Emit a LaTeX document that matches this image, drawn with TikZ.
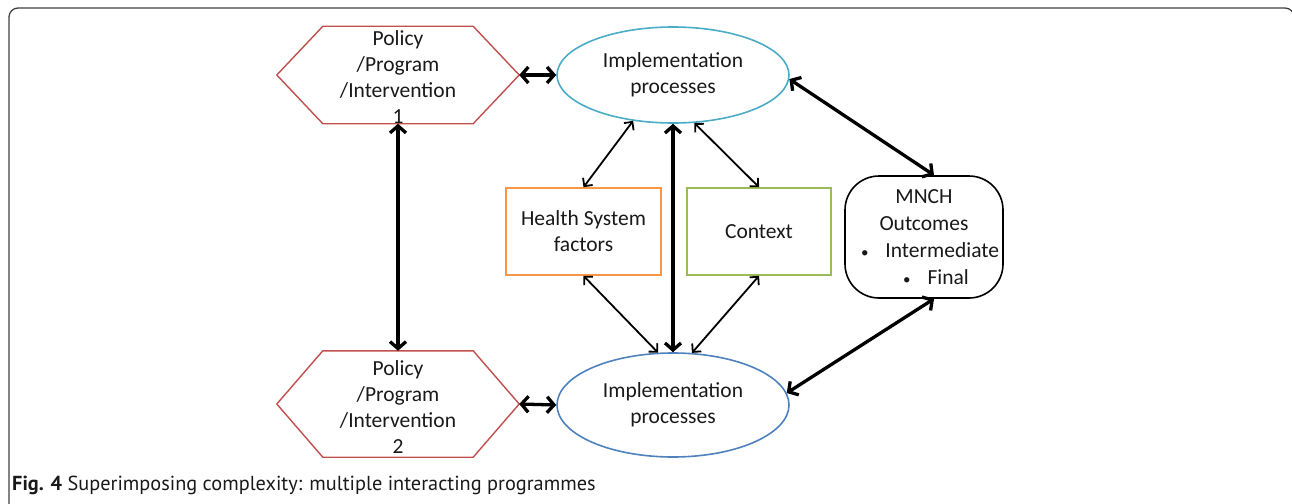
\documentclass[tikz,border=0pt]{standalone}
\usepackage{fontspec}
\setmainfont{Carlito}
\newfontfamily\capfont{PT Sans}
\usetikzlibrary{arrows.meta,shapes.geometric,calc}
\definecolor{hexred}{HTML}{C0504D}
\definecolor{tealc}{HTML}{4BACC6}
\definecolor{bluec}{HTML}{4F81BD}
\definecolor{orangec}{HTML}{F79646}
\definecolor{greenc}{HTML}{9BBB59}
\newcommand{\smallbul}{{\fontsize{15}{15}\selectfont\textbullet}}
\begin{document}
\begin{tikzpicture}[x=1pt,y=-1pt,
  txt/.style={font=\fontsize{21.5}{26}\selectfont, align=center, text=black!90},
  hexbox/.style={rectangle, minimum width=242pt, minimum height=97pt, inner sep=0pt},
  hexline/.style={draw=hexred, line width=1.4pt},
  ell/.style={ellipse, minimum width=232pt, inner sep=0pt, line width=1.6pt, txt},
  sqbox/.style={rectangle, minimum height=87pt, inner sep=0pt, line width=1.6pt, txt},
  thickarr/.style={line width=3.3pt, {Straight Barb[length=7pt,width=16pt]}-{Straight Barb[length=7pt,width=16pt]}},
  thinarr/.style={line width=1.8pt, {Straight Barb[length=6pt,width=12pt]}-{Straight Barb[length=6pt,width=12pt]}},
]
\useasboundingbox (0,0) rectangle (1292,503);
\begin{scope}
\clip (0,0) rectangle (1292,503);
\draw[line width=1.3pt, black!75, rounded corners=9pt] (9,520) -- (9,8) -- (1294,8) -- (1294,530);
\end{scope}

% hexagons
\node[hexbox] (h1) at (398,75) {};
\draw[hexline] (h1.west) -- ([xshift=46pt]h1.north west) -- ([xshift=-46pt]h1.north east) -- (h1.east) -- ([xshift=-46pt]h1.south east) -- ([xshift=46pt]h1.south west) -- cycle;
\node[txt] (h1t) at (398,77) {Policy\\/Program\\/Intervention\\1};
\node[hexbox, minimum height=106pt] (h2) at (398,404) {};
\draw[hexline] (h2.west) -- ([xshift=46pt]h2.north west) -- ([xshift=-46pt]h2.north east) -- (h2.east) -- ([xshift=-46pt]h2.south east) -- ([xshift=46pt]h2.south west) -- cycle;
\node[txt] (h2t) at (398,407) {Policy\\/Program\\/Intervention\\2};

% ellipses
\node[ell, draw=tealc, minimum height=96pt] (e1) at (673,75) {Implementation\\processes};
\node[ell, draw=bluec, minimum height=104pt] (e2) at (673,405) {Implementation\\processes};

% boxes
\node[sqbox, draw=orangec, minimum width=155pt] (hs) at (583.5,231.5) {Health System\\factors};
\node[sqbox, draw=greenc, minimum width=144pt] (ct) at (759,231.5) {Context};
\node[draw=black, line width=1.6pt, rounded corners=34pt, minimum width=158pt, minimum height=122pt, inner sep=0pt,
      font=\fontsize{21.5}{27}\selectfont, align=center, text=black!90] (m) at (924,237)
  {MNCH\\Outcomes\\\hspace*{12pt}\smallbul\hspace{17pt}Intermediate\\\hspace*{24pt}\smallbul\hspace{17pt}Final};

% connectors
\draw[thickarr] (h1.east) -- (e1.west);
\draw[thickarr] (h2.east) -- (e2.west);
\draw[thickarr] (h1.south) -- (h2.north);
\draw[thickarr] (e1.south) -- (e2.north);
\draw[thinarr] (e1.-131) -- (hs.north);
\draw[thinarr] (e1.-66) -- (ct.north);
\draw[thinarr] (hs.south) -- (e2.106);
\draw[thinarr] (ct.south) -- (e2.70);
\draw[thickarr] (e1.-2) -- ([xshift=10pt]m.north);
\draw[thickarr] ([xshift=10pt]m.south) -- (e2.6);

% caption
\node[anchor=base west, inner sep=0pt, font=\capfont\fontsize{20.3}{23}\selectfont, text=black!90] (cap) at (12,490)
  {\textbf{Fig. 4} Superimposing complexity: multiple interacting programmes};
\end{tikzpicture}
\end{document}
